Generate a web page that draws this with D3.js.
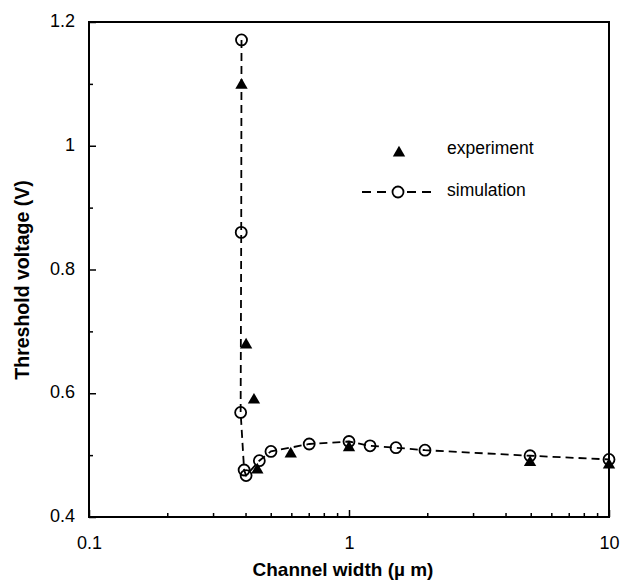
<!DOCTYPE html>
<html>
<head>
<meta charset="utf-8">
<script src="https://cdn.jsdelivr.net/npm/d3@7"></script>
<style>
  body { margin: 0; background: #fff; }
  svg { display: block; font-family: Arial, "Liberation Sans", sans-serif; }
</style>
</head>
<body>
<svg></svg>
<script>
// threshold voltage vs channel width, log x axis

const width = 620;
const height = 581;
const margin = { left: 89, right: 11, top: 22, bottom: 64 };

// simulation (circles + dashed line)
const simWidth = [0.386, 0.385, 0.383, 0.395, 0.402, 0.452, 0.501, 0.703, 1.0, 1.205, 1.516, 1.96, 4.97, 10];
const simVt = [1.171, 0.860, 0.569, 0.476, 0.467, 0.491, 0.506, 0.518, 0.522, 0.515, 0.512, 0.508, 0.499, 0.493];

// experiment (filled triangles)
const expWidth = [0.386, 0.402, 0.431, 0.444, 0.597, 1.0, 4.97, 10];
const expVt = [1.098, 0.678, 0.589, 0.476, 0.502, 0.512, 0.488, 0.484];

const xTicks = [0.1, 1, 10];
const xMinor = [0.2, 0.3, 0.4, 0.5, 0.6, 0.7, 0.8, 0.9, 2, 3, 4, 5, 6, 7, 8, 9];
const yTicks = [0.4, 0.6, 0.8, 1.0, 1.2];
const yMinor = [0.5, 0.7, 0.9, 1.1];

const svg = d3.select("svg").attr("width", width).attr("height", height);

const x = d3
  .scaleLog()
  .domain([0.1, 10])
  .range([margin.left, width - margin.right]);

const y = d3
  .scaleLinear()
  .domain([0.4, 1.2])
  .range([height - margin.bottom, margin.top]);

const bottom = height - margin.bottom;

// axes, ticks pointing inward
svg
  .append("g")
  .attr("transform", "translate(0," + bottom + ")")
  .call(
    d3.axisBottom(x).tickValues(xTicks).tickSize(-7).tickPadding(19)
      .tickFormat(d3.format("~g"))
  );
svg
  .append("g")
  .attr("transform", "translate(0," + bottom + ")")
  .call(d3.axisBottom(x).tickValues(xMinor).tickSize(-4).tickFormat(""));

const yAxis = svg
  .append("g")
  .attr("transform", "translate(" + margin.left + ",0)")
  .call(
    d3.axisLeft(y).tickValues(yTicks).tickSize(-7).tickPadding(14)
      .tickFormat(d3.format("~g"))
  );
svg
  .append("g")
  .attr("transform", "translate(" + margin.left + ",0)")
  .call(d3.axisLeft(y).tickValues(yMinor).tickSize(-4).tickFormat(""));

svg.selectAll(".domain").remove();
svg.selectAll(".tick line").attr("stroke", "#000").attr("stroke-width", 1.5);
svg
  .selectAll(".tick text")
  .attr("fill", "#000")
  .style("font-size", "18px");
yAxis.selectAll(".tick text").attr("dy", "0.25em");

// frame
svg
  .append("rect")
  .attr("x", margin.left)
  .attr("y", margin.top)
  .attr("width", width - margin.left - margin.right)
  .attr("height", bottom - margin.top)
  .attr("fill", "none")
  .attr("stroke", "#000")
  .attr("stroke-width", 2);

// axis titles
svg
  .append("text")
  .attr("x", 343)
  .attr("y", 576)
  .attr("text-anchor", "middle")
  .style("font-size", "19px")
  .style("font-weight", "bold")
  .text("Channel width (\u00b5 m)");

svg
  .append("text")
  .attr("transform", "rotate(-90)")
  .attr("x", -280)
  .attr("y", 29)
  .attr("text-anchor", "middle")
  .style("font-size", "19.5px")
  .style("font-weight", "bold")
  .text("Threshold voltage (V)");

const simData = simWidth.map((w, i) => ({ w: w, v: simVt[i] }));
const expData = expWidth.map((w, i) => ({ w: w, v: expVt[i] }));

// simulation dashed line
svg
  .append("path")
  .datum(simData)
  .attr("d", d3.line().x((d) => x(d.w)).y((d) => y(d.v)))
  .attr("fill", "none")
  .attr("stroke", "#000")
  .attr("stroke-width", 1.8)
  .attr("stroke-dasharray", "8,5");

const triangle = d3.symbol().type(d3.symbolTriangle).size(66);

svg
  .selectAll(".exp")
  .data(expData)
  .enter()
  .append("path")
  .attr("class", "exp")
  .attr("d", triangle)
  .attr("transform", (d) => "translate(" + x(d.w) + "," + y(d.v) + ")")
  .attr("fill", "#000");

svg
  .selectAll(".sim")
  .data(simData)
  .enter()
  .append("circle")
  .attr("class", "sim")
  .attr("cx", (d) => x(d.w))
  .attr("cy", (d) => y(d.v))
  .attr("r", 5.5)
  .attr("fill", "none")
  .attr("stroke", "#000")
  .attr("stroke-width", 1.8);

// legend
const legend = svg.append("g");
legend
  .append("path")
  .attr("d", triangle)
  .attr("transform", "translate(399,153)")
  .attr("fill", "#000");
legend
  .append("text")
  .attr("x", 447)
  .attr("y", 154)
  .style("font-size", "17.5px")
  .text("experiment");

legend
  .append("line")
  .attr("x1", 362)
  .attr("x2", 434)
  .attr("y1", 192)
  .attr("y2", 192)
  .attr("stroke", "#000")
  .attr("stroke-width", 1.8)
  .attr("stroke-dasharray", "9,6");
legend
  .append("circle")
  .attr("cx", 398)
  .attr("cy", 192)
  .attr("r", 5.5)
  .attr("fill", "#fff")
  .attr("stroke", "#000")
  .attr("stroke-width", 1.8);
legend
  .append("text")
  .attr("x", 447)
  .attr("y", 196)
  .style("font-size", "17.5px")
  .text("simulation");
</script>
</body>
</html>
